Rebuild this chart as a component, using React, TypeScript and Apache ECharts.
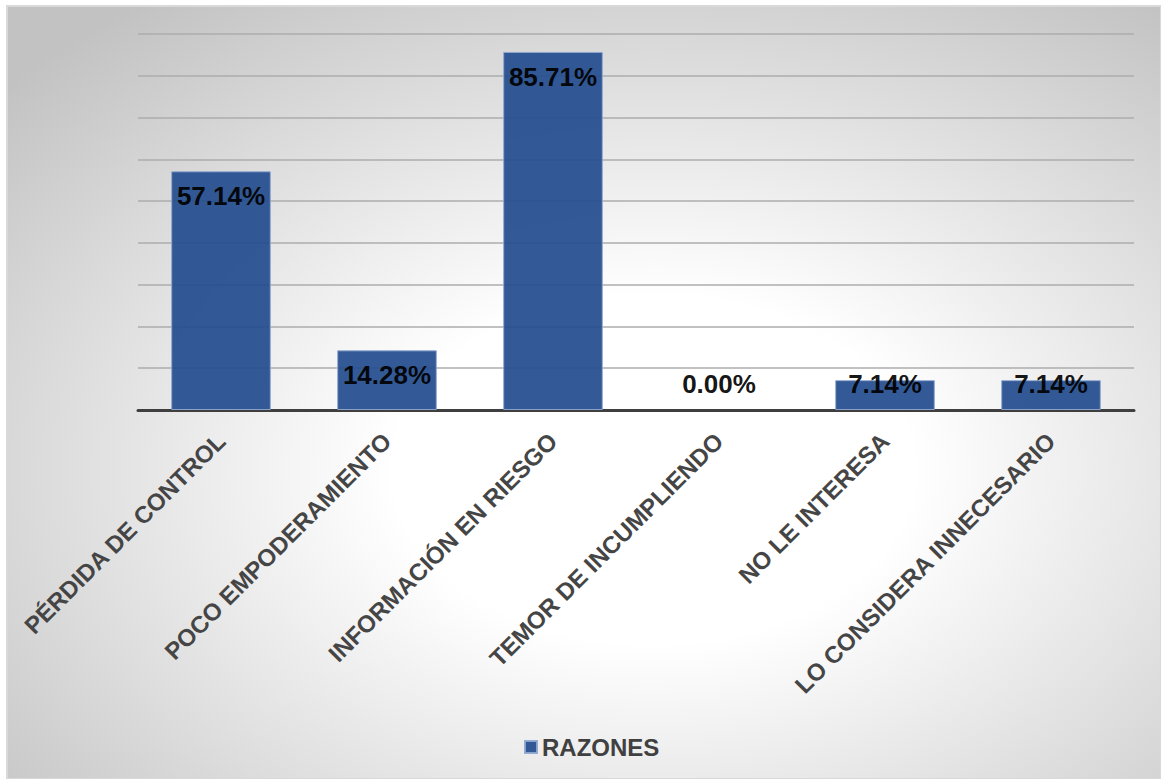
import React, { useEffect, useRef } from "react";
import * as echarts from "echarts";

const categories = [
  "PÉRDIDA DE CONTROL",
  "POCO EMPODERAMIENTO",
  "INFORMACIÓN EN RIESGO",
  "TEMOR DE INCUMPLIENDO",
  "NO LE INTERESA",
  "LO CONSIDERA INNECESARIO",
];
const values = [57.14, 14.28, 85.71, 0.0, 7.14, 7.14];
const seriesName = "RAZONES";

const FONT = "'Liberation Sans', Arial, sans-serif";

export default function App() {
  const ref = useRef<HTMLDivElement>(null);
  useEffect(() => {
    if (!ref.current) return;
    const chart = echarts.init(ref.current, null, { renderer: "svg" });
    const data = values.map((v) => {
      if (v === 0) {
        return {
          value: v,
          itemStyle: { borderWidth: 0 },
          label: { position: ["50%", -26], align: "center", verticalAlign: "middle" },
        };
      }
      if (v < 10) {
        return { value: v, label: { position: ["50%", 4], align: "center", verticalAlign: "middle" } };
      }
      return { value: v };
    });
    chart.setOption({
      animation: false,
      backgroundColor: "#ffffff",
      graphic: [
        {
          type: "rect",
          z: -100,
          shape: { x: 7, y: 6, width: 1154, height: 773 },
          style: {
            fill: new echarts.graphic.RadialGradient(0.56, 0.6, 0.75, [
              { offset: 0, color: "#ffffff" },
              { offset: 0.3, color: "#ffffff" },
              { offset: 1, color: "#c2c2c2" },
            ]),
            stroke: "#d9d9d9",
            lineWidth: 2,
          },
        },
      ],
      grid: { left: 138, right: 27, top: 34, bottom: 369, containLabel: false },
      legend: {
        left: 519,
        top: 730,
        itemWidth: 12,
        itemHeight: 12,
        itemGap: 9,
        icon: "rect",
        data: [seriesName],
        textStyle: { fontFamily: FONT, fontSize: 24, fontWeight: "bold", color: "#404040" },
      },
      xAxis: {
        type: "category",
        data: categories,
        axisLine: { show: true, lineStyle: { color: "#3f3f3f", width: 3 } },
        axisTick: { show: false },
        axisLabel: {
          rotate: 45,
          interval: 0,
          margin: 27,
          fontFamily: FONT,
          fontSize: 24,
          fontWeight: "bold",
          color: "#454545",
        },
      },
      yAxis: {
        type: "value",
        min: 0,
        max: 90,
        interval: 10,
        axisLabel: { show: false },
        axisLine: { show: false },
        axisTick: { show: false },
        splitLine: { show: true, lineStyle: { color: "#adadad", width: 1.5 } },
      },
      series: [
        {
          name: seriesName,
          type: "bar",
          barWidth: "60%",
          data,
          itemStyle: { color: "#234e8e", opacity: 0.93, borderColor: "#8fa8d0", borderWidth: 1 },
          label: {
            show: true,
            position: "insideTop",
            distance: 12,
            formatter: (p: any) => p.value.toFixed(2) + "%",
            fontFamily: FONT,
            fontSize: 26,
            fontWeight: "bold",
            color: "#000000",
          },
        },
      ],
    });
    return () => chart.dispose();
  }, []);
  return (
    <div
      ref={ref}
      style={{ position: "absolute", left: 0, top: 0, width: 1161, height: 779 }}
    />
  );
}
